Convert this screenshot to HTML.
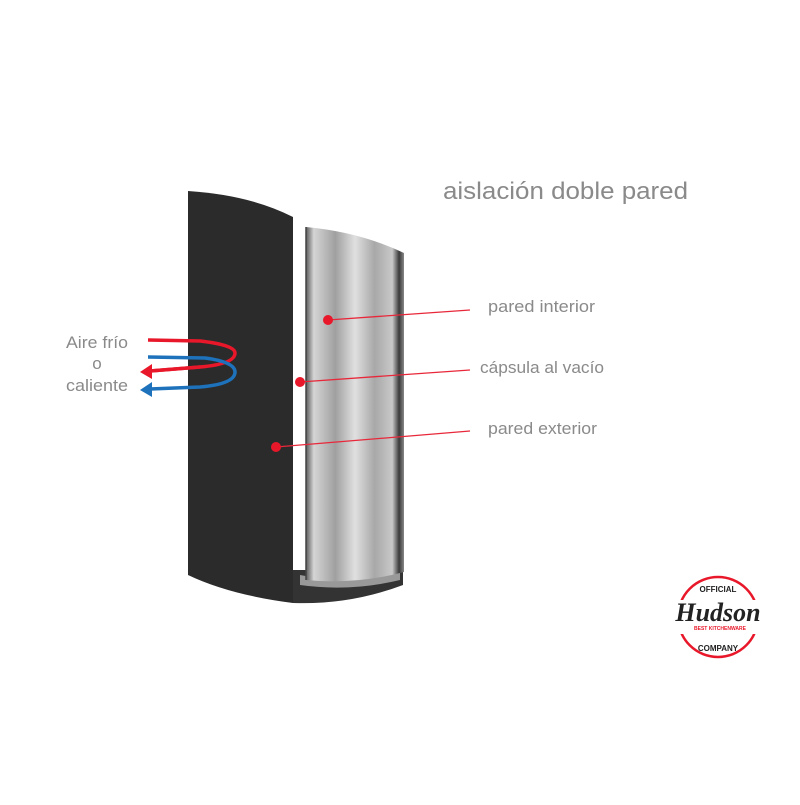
<!DOCTYPE html>
<html><head><meta charset="utf-8"><style>
body{margin:0;width:800px;height:800px;background:#fff;overflow:hidden;font-family:"Liberation Sans",sans-serif}
</style></head><body>
<svg width="800" height="800" viewBox="0 0 800 800" xmlns="http://www.w3.org/2000/svg">
<defs>
<linearGradient id="sil" x1="0" x2="1">
<stop offset="0" stop-color="#5a5a5a"/><stop offset="0.08" stop-color="#d5d5d5"/>
<stop offset="0.3" stop-color="#a0a0a0"/><stop offset="0.5" stop-color="#e0e0e0"/>
<stop offset="0.7" stop-color="#a8a8a8"/><stop offset="0.88" stop-color="#c8c8c8"/>
<stop offset="0.95" stop-color="#3a3a3a"/><stop offset="1" stop-color="#888"/>
</linearGradient>
</defs>
<path d="M293 570 L403 570 L403 585 Q350 605 293 603 Z" fill="#333"/>
<path d="M300 575 Q350 585 400 572 L400 580 Q350 592 300 585 Z" fill="#999"/>
<path d="M306 227 Q360 232 404 253 L404 572 Q355 585 306 580 Z" fill="url(#sil)"/>
<line x1="306" y1="227" x2="306" y2="580" stroke="#444" stroke-width="1.5"/>
<path d="M188 191 Q250 195 293 217 L293 603 Q230 595 188 575 Z" fill="#2b2b2b"/>
<g stroke="#e8283a" stroke-width="1.3" fill="none">
<line x1="328" y1="320" x2="470" y2="310"/>
<line x1="300" y1="382" x2="470" y2="370"/>
<line x1="276" y1="447" x2="470" y2="431"/>
</g>
<g fill="#e8182a"><circle cx="328" cy="320" r="5"/><circle cx="300" cy="382" r="5"/><circle cx="276" cy="447" r="5"/></g>
<path d="M148 340 L200 341 Q235 345 235 353 Q235 364 200 367 L150 371" fill="none" stroke="#e8182a" stroke-width="3.5"/>
<path d="M140 372 L152 364 L152 379 Z" fill="#e8182a"/>
<path d="M148 357 L205 358 Q235 362 235 372 Q235 384 200 387 L150 389" fill="none" stroke="#1d72bb" stroke-width="3.5"/>
<path d="M140 390 L152 382 L152 397 Z" fill="#1d72bb"/>
<path d="M200 367 L150 371" fill="none" stroke="#e8182a" stroke-width="3.5"/>
<g fill="#8a8a8a" font-family="Liberation Sans, sans-serif">
<text x="443" y="199" font-size="24" textLength="245" lengthAdjust="spacingAndGlyphs">aislación doble pared</text>
<text x="488" y="312" font-size="17" textLength="107" lengthAdjust="spacingAndGlyphs">pared interior</text>
<text x="480" y="373" font-size="17" textLength="124" lengthAdjust="spacingAndGlyphs">cápsula al vacío</text>
<text x="488" y="434" font-size="17" textLength="109" lengthAdjust="spacingAndGlyphs">pared exterior</text>
<text x="97" y="348" font-size="17" text-anchor="middle" textLength="62" lengthAdjust="spacingAndGlyphs">Aire frío</text>
<text x="97" y="369" font-size="17" text-anchor="middle">o</text>
<text x="97" y="391" font-size="17" text-anchor="middle" textLength="62" lengthAdjust="spacingAndGlyphs">caliente</text>
</g>
<circle cx="718" cy="617" r="40" fill="none" stroke="#e8182a" stroke-width="2.5"/>
<rect x="660" y="600" width="116" height="34" fill="#fff"/>
<text x="718" y="592" font-size="8" font-weight="bold" text-anchor="middle" fill="#222">OFFICIAL</text>
<text x="718" y="651" font-size="8" font-weight="bold" text-anchor="middle" fill="#222">COMPANY</text>
<text x="718" y="621" font-size="26" font-style="italic" font-weight="bold" font-family="Liberation Serif, serif" text-anchor="middle" fill="#222">Hudson</text>
<text x="720" y="630" font-size="5" font-weight="bold" text-anchor="middle" fill="#e8182a">BEST KITCHENWARE</text>
</svg>
</body></html>
